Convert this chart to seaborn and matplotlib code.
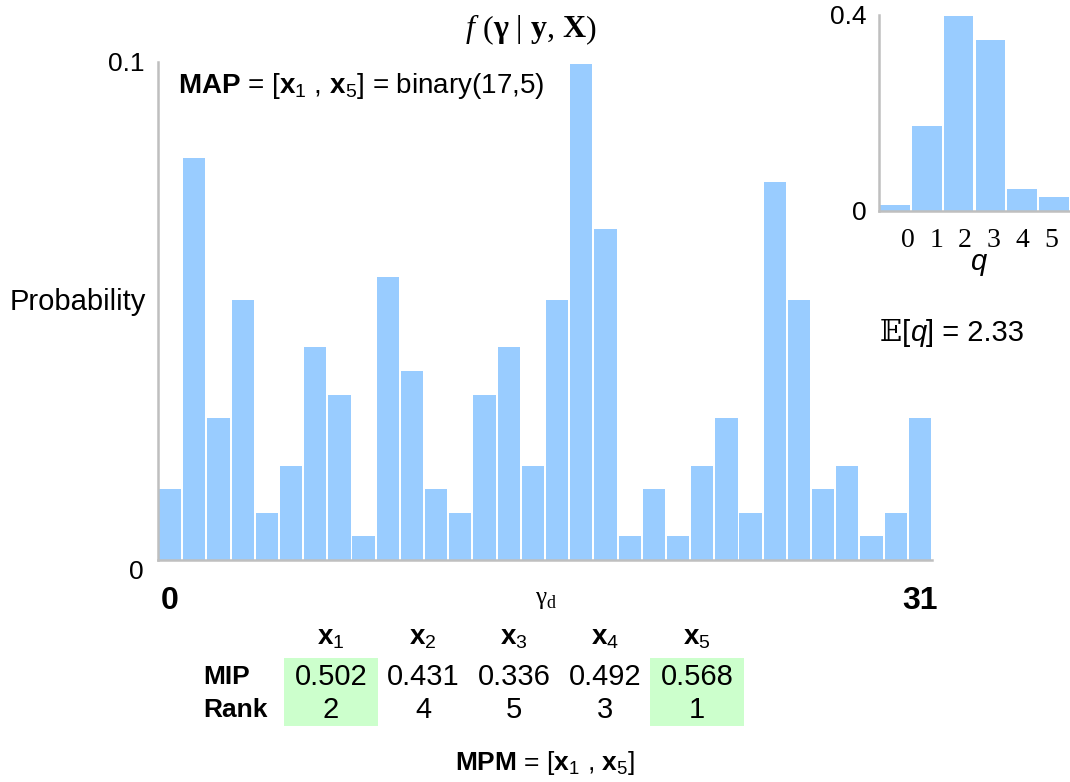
import matplotlib
matplotlib.use("Agg")
import matplotlib.pyplot as plt
from matplotlib.transforms import IdentityTransform
from matplotlib.patches import Rectangle
import seaborn as sns

# ---------------- data ----------------
gamma = list(range(32))
prob = [0.0143, 0.0810, 0.0286, 0.0524, 0.0095, 0.0190, 0.0429, 0.0333,
        0.0048, 0.0571, 0.0381, 0.0143, 0.0095, 0.0333, 0.0429, 0.0190,
        0.0524, 0.1000, 0.0667, 0.0048, 0.0143, 0.0048, 0.0190, 0.0286,
        0.0095, 0.0762, 0.0524, 0.0143, 0.0190, 0.0048, 0.0095, 0.0286]
q_vals = [0, 1, 2, 3, 4, 5]
q_prob = [0.013, 0.173, 0.398, 0.349, 0.045, 0.029]
var_idx = ["1", "2", "3", "4", "5"]
mip = [0.502, 0.431, 0.336, 0.492, 0.568]
rank = [2, 4, 5, 3, 1]
mpm_sel = [True, False, False, False, True]
expected_q = 2.33

BAR = "#99CCFF"
GREEN = "#CCFFCC"
AXC = "#BFBFBF"
W, H = 1070, 782

sns.set_style("white")
plt.rcParams["font.family"] = ["Liberation Sans", "DejaVu Sans"]
plt.rcParams["mathtext.fontset"] = "custom"
plt.rcParams["mathtext.rm"] = "Liberation Sans"
plt.rcParams["mathtext.it"] = "Liberation Sans:italic"
plt.rcParams["mathtext.bf"] = "Liberation Sans:bold"
plt.rcParams["text.color"] = "black"
plt.rcParams["xtick.color"] = "black"
plt.rcParams["ytick.color"] = "black"

fig = plt.figure(figsize=(W / 100, H / 100), dpi=100)
FS = 20


def px_axes(left, top, right, bottom):
    return fig.add_axes([left / W, 1 - bottom / H, (right - left) / W, (bottom - top) / H])


def ftext(x, y, s, **kw):
    return fig.text(x, H - y, s, transform=IdentityTransform(), **kw)


def pieces(x, y, parts, ha="center"):
    r = fig.canvas.get_renderer()
    objs = []
    total = 0
    for s, kw, dy in parts:
        t = fig.text(0, 0, s, transform=IdentityTransform(), va="baseline", **kw)
        w = t.get_window_extent(r).width
        objs.append((t, w, dy))
        total += w
    x0 = x - total / 2 if ha == "center" else x
    for t, w, dy in objs:
        t.set_position((x0, H - y + dy))
        x0 += w


def style_axes(a):
    a.tick_params(axis="both", length=0)
    for s in ["top", "right"]:
        a.spines[s].set_visible(False)
    for s in ["left", "bottom"]:
        a.spines[s].set_color(AXC)
        a.spines[s].set_linewidth(1.8)
    a.set_xlabel("")
    a.set_ylabel("")


# ---------------- main chart ----------------
ax = px_axes(158, 62, 932, 560)
sns.barplot(x=gamma, y=prob, color=BAR, saturation=1, width=0.92, linewidth=0, ax=ax)
ax.set_xlim(-0.5, 31.5)
ax.set_ylim(0, 0.1004)
ax.set_yticks([0, 0.1])
ax.set_yticklabels(["0", "0.1"], fontsize=19)
for lbl in ax.get_yticklabels():
    lbl.set_verticalalignment("top" if lbl.get_text() == "0" else "center")
ax.set_xticks([0, 31])
ax.set_xticklabels(["0", "31"], fontsize=23, fontweight="bold")
style_axes(ax)
ax.tick_params(axis="x", pad=19)
ax.tick_params(axis="y", pad=10)

ftext(78, 302, "Probability", fontsize=21, ha="center", va="center")
ftext(178, 86, r"$\mathbf{MAP}$ = [$\mathbf{x}_1$ , $\mathbf{x}_5$] = binary(17,5)",
      fontsize=FS, ha="left", va="center")

serif = "Liberation Serif"
TS = 23
pieces(531, 37, [
    ("f", dict(fontsize=TS, family=serif, style="italic"), 0),
    (" (", dict(fontsize=TS, family=serif), 0),
    ("γ", dict(fontsize=TS, family=serif, weight="bold"), 0),
    (" | ", dict(fontsize=TS, family=serif), 0),
    ("y", dict(fontsize=TS, family=serif, weight="bold"), 0),
    (", ", dict(fontsize=TS, family=serif), 0),
    ("X", dict(fontsize=TS, family=serif, weight="bold"), 0),
    (")", dict(fontsize=TS, family=serif), 0),
])
pieces(545, 604, [
    ("γ", dict(fontsize=18, family=serif), 0),
    ("d", dict(fontsize=13, family=serif), -4),
])

# ---------------- inset ----------------
axi = px_axes(879, 15, 1070, 211)
sns.barplot(x=q_vals, y=q_prob, color=BAR, saturation=1, width=0.93, linewidth=0, ax=axi)
axi.set_xlim(-0.5, 5.5)
axi.set_ylim(0, 0.4)
axi.set_yticks([0, 0.4])
axi.set_yticklabels(["0", "0.4"], fontsize=19)
# tick labels sit slightly narrower than the bars in the reference
axi.set_xticks([0.4, 1.3, 2.2, 3.1, 4.0, 4.9])
axi.set_xticklabels([str(v) for v in q_vals], fontsize=20, family=serif)
style_axes(axi)
axi.tick_params(axis="x", pad=12)
axi.tick_params(axis="y", pad=9)
ftext(978, 262, "q", fontsize=21, style="italic", ha="center", va="center")

pieces(880, 341, [
    ("𝔼", dict(fontsize=21, family=["DejaVu Serif", "DejaVu Sans"]), 0),
    ("[", dict(fontsize=21), 0),
    ("q", dict(fontsize=21, style="italic"), 0),
    (f"] = {expected_q:.2f}", dict(fontsize=21), 0),
], ha="left")

# ---------------- MIP table ----------------
col_x = [331, 423, 514, 605, 697]
for cx, sel in zip(col_x, mpm_sel):
    if sel:
        fig.patches.append(Rectangle((cx - 47, H - 726), 94, 68, transform=IdentityTransform(),
                                     facecolor=GREEN, edgecolor="none", zorder=0))
for cx, v, m, rk in zip(col_x, var_idx, mip, rank):
    ftext(cx, 638, r"$\mathbf{x}_{%s}$" % v, fontsize=FS, ha="center", va="center")
    ftext(cx, 677, f"{m:.3f}", fontsize=21, ha="center", va="center")
    ftext(cx, 710, str(rk), fontsize=21, ha="center", va="center")
ftext(203, 677, "MIP", fontsize=19, fontweight="bold", ha="left", va="center")
ftext(203, 710, "Rank", fontsize=19, fontweight="bold", ha="left", va="center")
ftext(545, 763, r"$\mathbf{MPM}$ = [$\mathbf{x}_1$ , $\mathbf{x}_5$]",
      fontsize=19, ha="center", va="center")

fig.savefig("out.png", dpi=100)
